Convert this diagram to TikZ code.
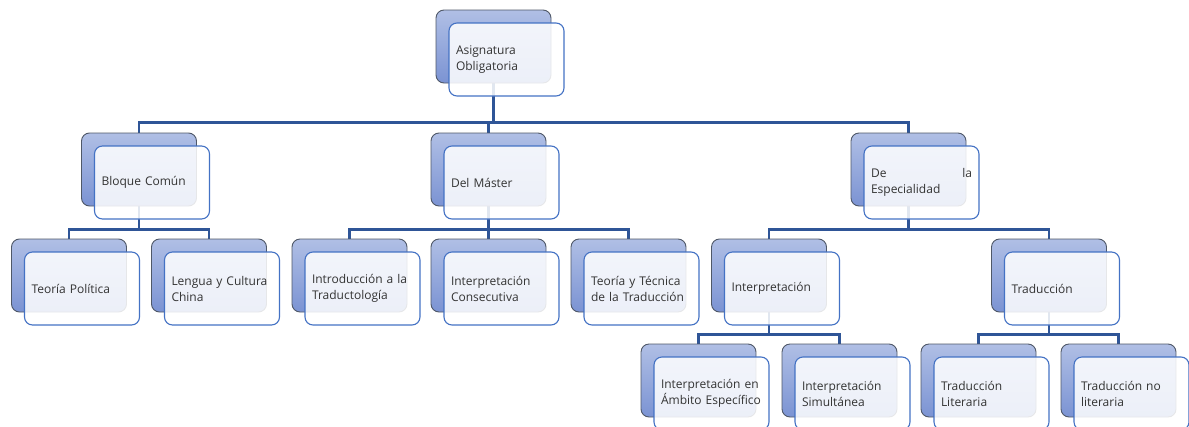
\documentclass[tikz,border=0pt]{standalone}
\usepackage{fontspec}
\setmainfont{Open Sans}
\usetikzlibrary{calc}
\pgfdeclarelayer{bg}
\pgfsetlayers{bg,main}

\definecolor{backtop}{HTML}{B0BFE5}
\definecolor{backbot}{HTML}{7B93D3}
\definecolor{backline}{HTML}{4F5868}
\definecolor{frontline}{HTML}{4472C4}
\definecolor{connline}{HTML}{2F5597}
\definecolor{txt}{HTML}{333333}

% first line of a two-line label, stretched to the full text width
\newcommand\fullline[1]{\makebox[101pt][s]{#1}}

\tikzset{
  backbox/.style={draw=backline, line width=0.9pt, rounded corners=8pt,
    top color=backtop, bottom color=backbot,
    minimum width=115pt, minimum height=73pt, inner sep=0pt},
  frontbox/.style={draw=frontline, line width=1.1pt, rounded corners=8pt,
    fill=white, fill opacity=0.86, text opacity=1, text=txt,
    text width=101pt, inner xsep=7pt, inner ysep=0pt,
    minimum height=73pt, align=left,
    font=\fontsize{12}{16}\selectfont},
  conn/.style={draw=connline, line width=2.6pt}
}

% one chart entry: shaded back card plus the labelled front card
% #1 name, #2 centre x of back card, #3 top y of back card, #4 label
\newcommand\orgunit[4]{%
  \node[backbox] (#1b) at (#2, #3+36.5) {};
  \node[frontbox] (#1) at (#2+13, #3+49.5) {#4};
}

\begin{document}
\begin{tikzpicture}[x=1pt, y=-1pt]
  \useasboundingbox (0,0) rectangle (1189,426);
  \clip (0,0) rectangle (1189,426);

  % top level
  \orgunit{root}{493.5}{10}{Asignatura\\Obligatoria}

  % second level
  \orgunit{bloque}{139}{133}{Bloque Común}
  \orgunit{master}{488.5}{133}{Del Máster}
  \orgunit{espec}{908.5}{133}{De\hfill la\\Especialidad}

  % third level
  \orgunit{teopol}{69}{239}{Teoría Política}
  \orgunit{lengua}{209}{239}{\fullline{Lengua y Cultura}\\China}
  \orgunit{intro}{349.5}{239}{\fullline{Introducción a la}\\Traductología}
  \orgunit{consec}{488.5}{239}{Interpretación\\Consecutiva}
  \orgunit{tecnica}{628.5}{239}{\fullline{Teoría y Técnica}\\de la Traducción}
  \orgunit{interp}{769}{239}{Interpretación}
  \orgunit{trad}{1049}{239}{Traducción}

  % fourth level
  \orgunit{ambito}{698.5}{344}{\fullline{Interpretación en}\\Ámbito Específico}
  \orgunit{simul}{839.5}{344}{Interpretación\\Simultánea}
  \orgunit{liter}{978.5}{344}{Traducción\\Literaria}
  \orgunit{noliter}{1118.5}{344}{\fullline{Traducción no}\\literaria}

  % connectors, kept behind the cards
  \begin{pgfonlayer}{bg}
    \foreach \c in {bloque,master,espec}
      \draw[conn] (rootb.south) -- ++(0,39) -| (\c b.north);
    \foreach \c in {teopol,lengua}
      \draw[conn] (bloqueb.south) -- ++(0,23) -| (\c b.north);
    \foreach \c in {intro,consec,tecnica}
      \draw[conn] (masterb.south) -- ++(0,23) -| (\c b.north);
    \foreach \c in {interp,trad}
      \draw[conn] (especb.south) -- ++(0,23) -| (\c b.north);
    \foreach \c in {ambito,simul}
      \draw[conn] (interpb.south) -- ++(0,22) -| (\c b.north);
    \foreach \c in {liter,noliter}
      \draw[conn] (tradb.south) -- ++(0,22) -| (\c b.north);
  \end{pgfonlayer}
\end{tikzpicture}
\end{document}
